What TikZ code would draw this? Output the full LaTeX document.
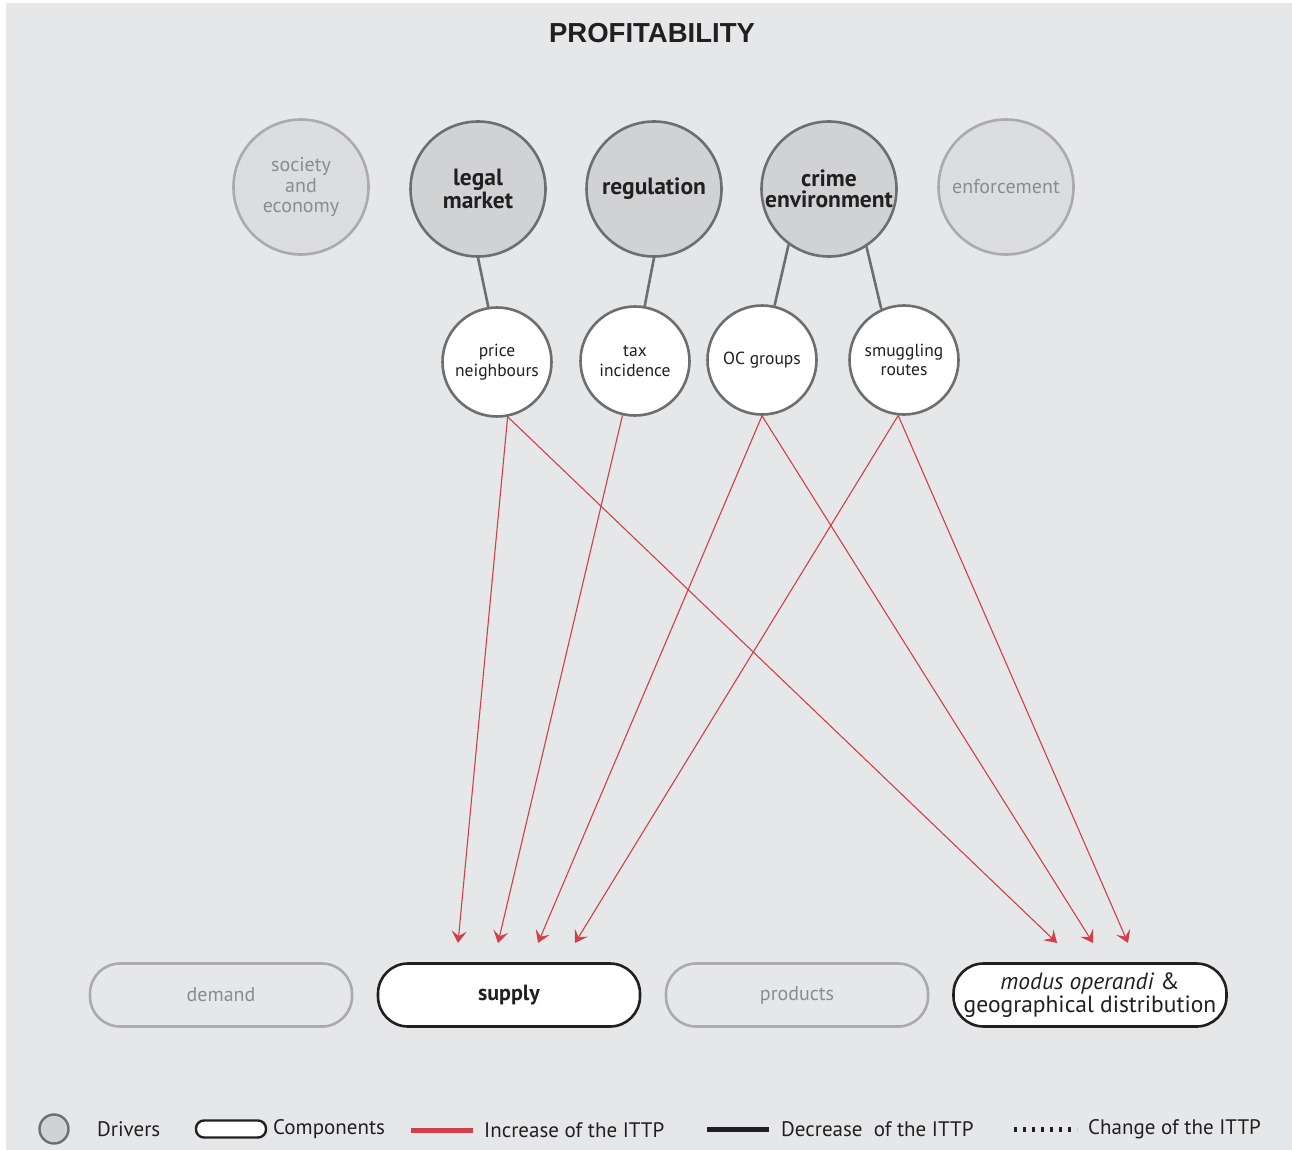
\documentclass[tikz,border=0pt]{standalone}
\usepackage{fontspec}
\setmainfont{PT Sans}
\newfontfamily\titlefont{Liberation Sans}
\newfontfamily\legendfont{PT Sans}
\usetikzlibrary{arrows.meta,calc}

\definecolor{bg}{HTML}{E6E7E8}
\definecolor{ink}{HTML}{231F20}
\definecolor{drvfill}{HTML}{D1D2D4}
\definecolor{drvline}{HTML}{6D6E70}
\definecolor{palefill}{HTML}{DCDDDF}
\definecolor{paleline}{HTML}{ABABAD}
\definecolor{paletext}{HTML}{8C8C8E}
\definecolor{incred}{HTML}{D1404A}

\tikzset{
  driver/.style={circle, draw=drvline, fill=drvfill, line width=2.6pt,
    minimum size=135pt, inner sep=0pt, align=center, text=ink,
    font=\fontsize{23.5}{21}\selectfont\bfseries},
  paledriver/.style={driver, draw=paleline, fill=palefill, text=paletext,
    font=\fontsize{20}{20.5}\selectfont\mdseries},
  factor/.style={circle, draw=drvline, fill=white, line width=2.6pt,
    minimum size=109pt, inner sep=0pt, align=center, text=ink,
    font=\fontsize{17.5}{19.5}\selectfont},
  component/.style={rectangle, rounded corners=30pt, draw=ink, fill=white,
    line width=2.6pt, minimum width=262pt, minimum height=63pt,
    inner sep=0pt, align=center, text=ink, font=\fontsize{22}{20}\selectfont},
  palecomponent/.style={component, draw=paleline, fill=bg, text=paletext,
    font=\fontsize{20}{20}\selectfont},
  link/.style={draw=drvline, line width=2.6pt},
  inc/.style={draw=incred, line width=1.1pt,
    -{Stealth[length=12pt,width=15pt,inset=5pt]}},
  legtext/.style={anchor=west, inner sep=0pt, text=ink,
    font=\legendfont\fontsize{21}{21}\selectfont},
}

\begin{document}
\begin{tikzpicture}[x=1pt,y=-1pt]
  \useasboundingbox (0,0) rectangle (1292,1150);
  \fill[bg] (6,3) rectangle (1292,1150);

  % title
  \node[text=ink, font=\titlefont\bfseries\fontsize{27.5}{28}\selectfont] (title) at (652,33) {PROFITABILITY};

  % drivers
  \node[paledriver] (society) at (301,187) {society\\and\\economy};
  \node[driver] (legal) at (478,189) {legal\\market};
  \node[driver] (regulation) at (654,189) {regulation};
  \node[driver] (crime) at (829,189) {crime\\environment};
  \node[paledriver] (enforcement) at (1006,187) {enforcement};

  % factors
  \node[factor] (price) at (497,362) {price\\neighbours};
  \node[factor] (tax) at (635,361) {tax\\incidence};
  \node[factor] (oc) at (762,360) {OC groups};
  \node[factor] (smuggling) at (904,360) {smuggling\\routes};

  % driver-factor links
  \draw[link] (legal.270) -- (price.99);
  \draw[link] (regulation.270) -- (tax.80);
  \draw[link] (crime.234) -- (oc.77);
  \draw[link] (crime.303) -- (smuggling.114);

  % components
  \node[palecomponent] (demand) at (221,995) {demand};
  \node[component, font=\fontsize{22}{20}\selectfont\bfseries] (supply) at (509,995) {supply};
  \node[palecomponent] (products) at (797,995) {products};
  \node[component, minimum width=273pt, font=\fontsize{23.5}{20.5}\selectfont] (modus) at (1090,995)
    {\textit{modus operandi} \&\\geographical distribution};

  % arrow ends above the components
  \coordinate (sup1) at (458,943);
  \coordinate (sup2) at (498,943);
  \coordinate (sup3) at (538,943);
  \coordinate (sup4) at (575,943);
  \coordinate (mod1) at (1057,943);
  \coordinate (mod2) at (1093,943);
  \coordinate (mod3) at (1128,943);

  % increasing influences
  \draw[inc] (price.281) -- (sup1);
  \draw[inc] (tax.257) -- (sup2);
  \draw[inc] (oc.270) -- (sup3);
  \draw[inc] (smuggling.264) -- (sup4);
  \draw[inc] (price.281) -- (mod1);
  \draw[inc] (oc.270) -- (mod2);
  \draw[inc] (smuggling.264) -- (mod3);

  % legend
  \node[circle, draw=drvline, fill=drvfill, line width=2.4pt, minimum size=29pt, inner sep=0pt] (legcircle) at (54,1129) {};
  \node[legtext] (legdrivers) at (97,1129) {Drivers};
  \node[rectangle, rounded corners=8pt, draw=ink, fill=white, line width=2.4pt,
    minimum width=70pt, minimum height=17pt, inner sep=0pt] (legbox) at (231,1129) {};
  \node[legtext] (legcomp) at (273,1129) {Components};
  \coordinate (incA) at (411,1130);
  \coordinate (incB) at (473,1130);
  \draw[incred, line width=5pt] (incA) -- (incB);
  \node[legtext] (leginc) at (484,1130) {Increase of the ITTP};
  \coordinate (decA) at (707,1129);
  \coordinate (decB) at (769,1129);
  \draw[ink, line width=5pt] (decA) -- (decB);
  \node[legtext] (legdec) at (781,1129) {Decrease\ \ of the ITTP};
  \coordinate (chgA) at (1014,1129);
  \coordinate (chgB) at (1077,1129);
  \draw[ink, line width=5pt, dash pattern=on 3pt off 6pt] (chgA) -- (chgB);
  \node[legtext] (legchg) at (1088,1129) {Change of the ITTP};
\end{tikzpicture}
\end{document}
